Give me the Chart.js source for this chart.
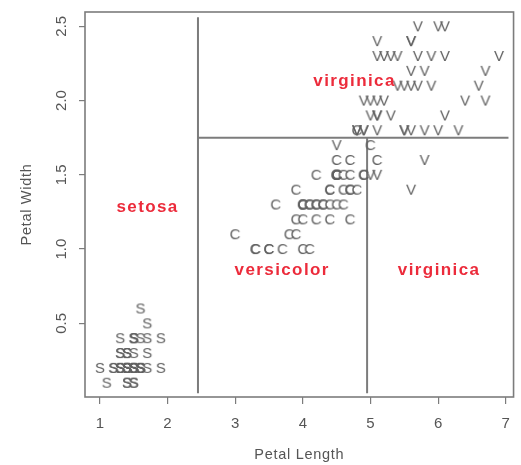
<!DOCTYPE html>
<html><head><meta charset="utf-8">
<script src="https://cdn.jsdelivr.net/npm/chart.js@4.4.1/dist/chart.umd.min.js"></script>
<style>html,body{margin:0;padding:0;background:#fff;}#wrap{width:521px;height:465px;}</style>
</head><body><div id="wrap"><canvas id="c" width="521" height="465"></canvas></div>
<script>
// ---- data (iris petal measurements) ----
const setosaPetalLength = [1.4,1.4,1.3,1.5,1.4,1.7,1.4,1.5,1.4,1.5,1.5,1.6,1.4,1.1,1.2,1.5,1.3,1.4,1.7,1.5,1.7,1.5,1.0,1.7,1.9,1.6,1.6,1.5,1.4,1.6,1.6,1.5,1.5,1.4,1.5,1.2,1.3,1.4,1.3,1.5,1.3,1.3,1.3,1.6,1.9,1.4,1.6,1.4,1.5,1.4];
const setosaPetalWidth  = [0.2,0.2,0.2,0.2,0.2,0.4,0.3,0.2,0.2,0.1,0.2,0.2,0.1,0.1,0.2,0.4,0.4,0.3,0.3,0.3,0.2,0.4,0.2,0.5,0.2,0.2,0.4,0.2,0.2,0.2,0.2,0.4,0.1,0.2,0.2,0.2,0.2,0.1,0.2,0.2,0.3,0.3,0.2,0.6,0.4,0.3,0.2,0.2,0.2,0.2];
const versicolorPetalLength = [4.7,4.5,4.9,4.0,4.6,4.5,4.7,3.3,4.6,3.9,3.5,4.2,4.0,4.7,3.6,4.4,4.5,4.1,4.5,3.9,4.8,4.0,4.9,4.7,4.3,4.4,4.8,5.0,4.5,3.5,3.8,3.7,3.9,5.1,4.5,4.5,4.7,4.4,4.1,4.0,4.4,4.6,4.0,3.3,4.2,4.2,4.2,4.3,3.0,4.1];
const versicolorPetalWidth  = [1.4,1.5,1.5,1.3,1.5,1.3,1.6,1.0,1.3,1.4,1.0,1.5,1.0,1.4,1.3,1.4,1.5,1.0,1.5,1.1,1.8,1.3,1.5,1.2,1.3,1.4,1.4,1.7,1.5,1.0,1.1,1.0,1.2,1.6,1.5,1.6,1.5,1.3,1.3,1.3,1.2,1.4,1.2,1.0,1.3,1.2,1.3,1.3,1.1,1.3];
const virginicaPetalLength = [6.0,5.1,5.9,5.6,5.8,6.6,4.5,6.3,5.8,6.1,5.1,5.3,5.5,5.0,5.1,5.3,5.5,6.7,6.9,5.0,5.7,4.9,6.7,4.9,5.7,6.0,4.8,4.9,5.6,5.8,6.1,6.4,5.6,5.1,5.6,6.1,5.6,5.5,4.8,5.4,5.6,5.1,5.1,5.9,5.7,5.2,5.0,5.2,5.4,5.1];
const virginicaPetalWidth  = [2.5,1.9,2.1,1.8,2.2,2.1,1.7,1.8,1.8,2.5,2.0,1.9,2.1,2.0,2.4,2.3,1.8,2.2,2.3,1.5,2.3,2.0,2.0,1.8,2.1,1.8,1.8,1.8,2.1,1.6,1.9,2.0,2.2,1.5,1.4,2.3,2.4,1.8,1.8,2.1,2.4,2.3,1.9,2.3,2.5,2.3,1.9,2.0,2.3,1.8];
const speciesLetters = ['S','C','V'];

// tree partition segments
const split1X = [2.45, 2.45], split1Y = [0.03, 2.56];
const split2X = [2.45, 7.04], split2Y = [1.75, 1.75];
const split3X = [4.95, 4.95], split3Y = [0.03, 1.75];

// region labels
const regionNames = ['setosa','versicolor','virginica','virginica'];
const regionX = [1.69, 3.68, 6.0, 4.75];
const regionY = [1.28, 0.86, 0.86, 2.13];

// axes
const xTickValues = [1,2,3,4,5,6,7];
const xTickLabels = ['1','2','3','4','5','6','7'];
const yTickValues = [0.5,1.0,1.5,2.0,2.5];
const yTickLabels = ['0.5','1.0','1.5','2.0','2.5'];
const xTitle = 'Petal Length';
const yTitle = 'Petal Width';

// ---- drawing ----
const FONT = '"Liberation Sans", Arial, Helvetica, sans-serif';
const GRAY = '#7c7c7c';
function glyph(ch){
  const c = document.createElement('canvas'); c.width = 18; c.height = 18;
  const g = c.getContext('2d');
  g.fillStyle = '#626262'; g.font = '15px ' + FONT;
  g.textAlign = 'center'; g.textBaseline = 'alphabetic';
  g.fillText(ch, 9, 9 + 5.4);
  return c;
}
function zip(xs, ys){ return xs.map((v,i)=>({x:v, y:ys[i]})); }
function seg(xs, ys){ return {type:'line', data:zip(xs,ys), borderColor:GRAY, borderWidth:2, pointRadius:0, showLine:true, fill:false}; }
function pts(xs, ys, letter){ return {type:'scatter', data:zip(xs,ys), pointStyle:glyph(letter), pointRadius:8, pointHoverRadius:8}; }

const overlay = {
  id:'overlay',
  afterDatasetsDraw(chart){
    const {ctx, chartArea:a, scales:{x, y}} = chart;
    ctx.save();
    ctx.strokeStyle = GRAY; ctx.lineWidth = 1.6;
    ctx.strokeRect(a.left, a.top, a.right - a.left, a.bottom - a.top);
    // y tick labels (rotated, R style)
    ctx.fillStyle = '#555'; ctx.font = '15px ' + FONT;
    ctx.textAlign = 'center'; ctx.textBaseline = 'middle';
    yTickValues.forEach((v,i)=>{
      ctx.save(); ctx.translate(62, y.getPixelForValue(v)); ctx.rotate(-Math.PI/2);
      ctx.fillText(yTickLabels[i], 0, 0); ctx.restore();
    });
    // axis titles
    ctx.font = '14.5px ' + FONT;
    try { ctx.letterSpacing = '0.7px'; } catch(e){}
    ctx.fillText(xTitle, (a.left + a.right)/2, 455);
    ctx.save(); ctx.translate(27, (a.top + a.bottom)/2); ctx.rotate(-Math.PI/2);
    ctx.fillText(yTitle, 0, 0); ctx.restore();
    // region labels
    ctx.fillStyle = '#ec2b3b'; ctx.font = 'bold 17px ' + FONT;
    try { ctx.letterSpacing = '1.4px'; } catch(e){}
    regionNames.forEach((n,i)=>{
      ctx.fillText(n, x.getPixelForValue(regionX[i]) + 1, y.getPixelForValue(regionY[i]));
    });
    ctx.restore();
  }
};

new Chart(document.getElementById('c'), {
  type:'scatter',
  data:{ datasets:[
    pts(setosaPetalLength, setosaPetalWidth, speciesLetters[0]),
    pts(versicolorPetalLength, versicolorPetalWidth, speciesLetters[1]),
    pts(virginicaPetalLength, virginicaPetalWidth, speciesLetters[2]),
    seg(split1X, split1Y), seg(split2X, split2Y), seg(split3X, split3Y)
  ]},
  options:{
    responsive:false, animation:false, devicePixelRatio:1,
    layout:{autoPadding:false, padding:{top:12, right:3, left:0, bottom:0}},
    plugins:{legend:{display:false}, tooltip:{enabled:false}},
    scales:{
      x:{type:'linear', min:0.78, max:7.115,
        afterBuildTicks:s=>{ s.ticks = xTickValues.map(v=>({value:v})); },
        afterFit:s=>{ s.height = 68; },
        ticks:{color:'#555', font:{size:15, family:FONT}, padding:11, maxRotation:0,
          callback:(v)=>{ const i = xTickValues.indexOf(v); return i>=0 ? xTickLabels[i] : ''; }},
        grid:{drawOnChartArea:false, drawTicks:true, tickLength:7, color:GRAY, lineWidth:1.2},
        border:{display:false}
      },
      y:{type:'linear', min:0.004, max:2.596,
        afterBuildTicks:s=>{ s.ticks = yTickValues.map(v=>({value:v})); },
        afterFit:s=>{ s.width = 85; },
        ticks:{display:false},
        grid:{drawOnChartArea:false, drawTicks:true, tickLength:6, color:GRAY, lineWidth:1.2},
        border:{display:false}
      }
    }
  },
  plugins:[overlay]
});
</script></body></html>
